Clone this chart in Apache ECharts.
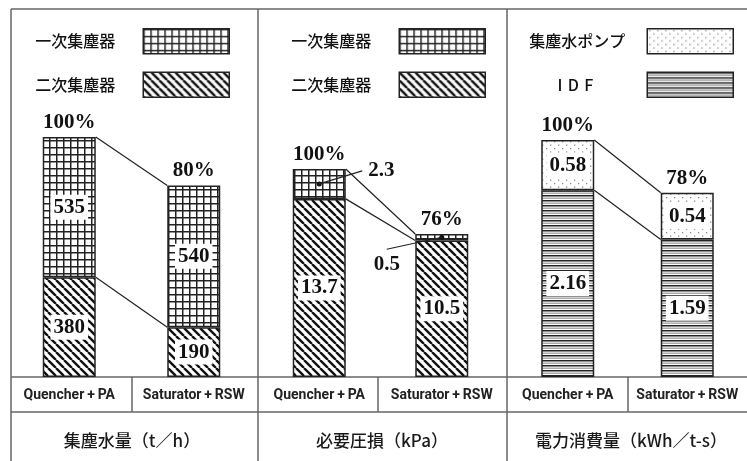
<!DOCTYPE html>
<html>
<head>
<meta charset="utf-8">
<script src="https://cdn.jsdelivr.net/npm/echarts@6/dist/echarts.min.js"></script>
</head>
<body style="margin: 0">
<div id="container" style="width: 747px; height: 461px"></div>
<script type="text/javascript">
// data
var categories = ['Quencher\u2009+\u2009PA', 'Saturator\u2009+\u2009RSW'];
var waterPrimary = [535, 540];      // 一次集塵器
var waterSecondary = [380, 190];    // 二次集塵器
var waterPct = ['100%', '80%'];
var pressPrimary = [2.3, 0.5];
var pressSecondary = [13.7, 10.5];
var pressPct = ['100%', '76%'];
var powerPump = [0.58, 0.54];       // 集塵水ポンプ
var powerIdf = [2.16, 1.59];        // IDF
var powerPct = ['100%', '78%'];
var panelTitles = ['集塵水量（t／h）', '必要圧損（kPa）', '電力消費量（kWh／t-s）'];

var BAR_W = 53;
var SERIF = '"Liberation Serif", "Times New Roman", serif';
var NARROW = 'Roboto, "Liberation Sans Narrow", sans-serif';
var CJK = '"Noto Sans CJK JP", "Noto Sans", sans-serif';

function tile(w, h, draw) {
    var c = document.createElement('canvas');
    c.width = w; c.height = h;
    var ctx = c.getContext('2d');
    ctx.fillStyle = '#fff';
    ctx.fillRect(0, 0, w, h);
    draw(ctx);
    return { image: c, repeat: 'repeat' };
}
var gridFill = tile(7, 7, function (ctx) {
    ctx.fillStyle = '#222';
    ctx.fillRect(0, 0, 7, 1.5);
    ctx.fillRect(0, 0, 1.5, 7);
});
var hatchFill = tile(8, 8, function (ctx) {
    ctx.strokeStyle = '#111';
    ctx.lineWidth = 2.4;
    ctx.beginPath();
    [-8, 0, 8].forEach(function (k) { ctx.moveTo(k, 0); ctx.lineTo(k + 8, 8); });
    ctx.stroke();
});
var dotFill = tile(8, 7, function (ctx) {
    ctx.fillStyle = '#888';
    ctx.fillRect(2, 1, 1.3, 1.3);
    ctx.fillRect(6, 4.5, 1.3, 1.3);
});
var lineFill = tile(4, 5, function (ctx) {
    ctx.fillStyle = '#222';
    ctx.fillRect(0, 0, 4, 1.5);
    ctx.fillStyle = '#aaa';
    ctx.fillRect(0, 2.5, 4, 1.5);
});

var valueLabel = {
    show: true, position: 'inside', color: '#111',
    fontFamily: SERIF, fontWeight: 'bold', fontSize: 21,
    backgroundColor: '#fff', padding: [3, 3, 1, 3]
};

function barSeries(idx, name, vals, fill, label) {
    return {
        type: 'bar', name: name, xAxisIndex: idx, yAxisIndex: idx,
        stack: 's' + idx, barWidth: BAR_W, data: vals,
        itemStyle: { color: fill, borderColor: '#222', borderWidth: 1.5 },
        label: label
    };
}

function connectorSeries(idx, lower, upper) {
    var data = [
        [0, lower[0], 1, lower[1]],
        [0, lower[0] + upper[0], 1, lower[1] + upper[1]]
    ];
    return {
        type: 'custom', xAxisIndex: idx, yAxisIndex: idx, data: data,
        encode: { x: [0, 2], y: [1, 3] }, silent: true, z: 3,
        renderItem: function (params, api) {
            var p0 = api.coord([api.value(0), api.value(1)]);
            var p1 = api.coord([api.value(2), api.value(3)]);
            return {
                type: 'line',
                shape: { x1: p0[0] + BAR_W / 2, y1: p0[1], x2: p1[0] - BAR_W / 2, y2: p1[1] },
                style: { stroke: '#222', lineWidth: 1.2 }
            };
        }
    };
}

function pctSeries(idx, lower, upper, pct) {
    var data = lower.map(function (v, i) { return [i, v + upper[i]]; });
    return {
        type: 'custom', xAxisIndex: idx, yAxisIndex: idx, data: data, silent: true, z: 4,
        renderItem: function (params, api) {
            var p = api.coord([api.value(0), api.value(1)]);
            return {
                type: 'text',
                style: {
                    text: pct[params.dataIndex], x: p[0], y: p[1] - 4,
                    align: 'center', verticalAlign: 'bottom',
                    font: 'bold 21px ' + SERIF, fill: '#111'
                }
            };
        }
    };
}

// callouts for the thin 一次集塵器 segments of 必要圧損
var calloutStyle = [
    { lx: 43, ly: -13, tx: 49, ty: -13, align: 'left', vAlign: 'middle' },
    { lx: -55, ly: 12, tx: -55, ty: 17, align: 'center', vAlign: 'top' }
];
function calloutSeries(idx, lower, upper) {
    var data = lower.map(function (v, i) { return [i, v + upper[i] / 2, upper[i]]; });
    return {
        type: 'custom', xAxisIndex: idx, yAxisIndex: idx, data: data, silent: true, z: 5,
        renderItem: function (params, api) {
            var p = api.coord([api.value(0), api.value(1)]);
            var s = calloutStyle[params.dataIndex];
            return {
                type: 'group',
                children: [
                    { type: 'circle', shape: { cx: p[0], cy: p[1], r: 2.5 }, style: { fill: '#111' } },
                    { type: 'line', shape: { x1: p[0], y1: p[1], x2: p[0] + s.lx, y2: p[1] + s.ly },
                      style: { stroke: '#222', lineWidth: 1.2 } },
                    { type: 'text', style: {
                        text: String(api.value(2)), x: p[0] + s.tx, y: p[1] + s.ty,
                        align: s.align, verticalAlign: s.vAlign,
                        font: 'bold 21px ' + SERIF, fill: '#111' } }
                ]
            };
        }
    };
}

var gridBoxes = [
    { left: 7, width: 249, top: 137, height: 240 },
    { left: 258, width: 245, top: 137, height: 240 },
    { left: 508, width: 246, top: 137, height: 240 }
];
var yMax = [915, 18.46, 2.775];

var xAxes = gridBoxes.map(function (g, i) {
    return {
        type: 'category', gridIndex: i, data: categories,
        axisLine: { show: false }, axisTick: { show: false },
        axisLabel: { interval: 0, margin: 11, fontSize: 14, fontWeight: 'bold', fontFamily: NARROW, color: '#222' }
    };
});
var yAxes = gridBoxes.map(function (g, i) {
    return { type: 'value', gridIndex: i, min: 0, max: yMax[i], show: false, splitLine: { show: false } };
});

// table frame
var frame = [
    [11, 9, 747, 9], [11, 9, 11, 461], [258, 9, 258, 461], [507, 9, 507, 461],
    [11, 377, 747, 377], [11, 412, 747, 412],
    [132, 377, 132, 412], [378, 377, 378, 412], [628, 377, 628, 412]
];
var graphics = frame.map(function (l) {
    return { type: 'line', silent: true, shape: { x1: l[0], y1: l[1], x2: l[2], y2: l[3] },
             style: { stroke: '#666', lineWidth: 1.5 } };
});
[132, 382, 631].forEach(function (x, i) {
    graphics.push({ type: 'text', x: x, y: 441, style: {
        text: panelTitles[i], align: 'center', verticalAlign: 'middle',
        font: '500 17px ' + CJK, fill: '#1a1a1a' } });
});

function legendOf(names, right) {
    return {
        data: names, orient: 'vertical', align: 'right', right: right, top: 28,
        itemWidth: 86, itemHeight: 25, itemGap: 17, padding: 0, icon: 'rect',
        selectedMode: false,
        itemStyle: { borderColor: '#222', borderWidth: 1.5 },
        textStyle: { fontSize: 16, fontWeight: 500, color: '#111', fontFamily: CJK, padding: [0, 23, 0, 0] },
        formatter: function (n) { return n === 'IDF' ? 'I\u2004D\u2004F' : n; }
    };
}

var option = {
    backgroundColor: '#fff',
    animation: false,
    grid: gridBoxes,
    xAxis: xAxes,
    yAxis: yAxes,
    legend: [
        legendOf(['一次集塵器', '二次集塵器'], 517),
        legendOf(['一次集塵器', '二次集塵器'], 261),
        legendOf([{ name: '集塵水ポンプ', textStyle: { padding: [0, 17, 0, 0] } },
                  { name: 'IDF', textStyle: { padding: [0, 49, 0, 0] } }], 13)
    ],
    graphic: graphics,
    series: [
        barSeries(0, '二次集塵器', waterSecondary, hatchFill, valueLabel),
        barSeries(0, '一次集塵器', waterPrimary, gridFill, valueLabel),
        connectorSeries(0, waterSecondary, waterPrimary),
        pctSeries(0, waterSecondary, waterPrimary, waterPct),

        barSeries(1, '二次集塵器', pressSecondary, hatchFill, valueLabel),
        barSeries(1, '一次集塵器', pressPrimary, gridFill, { show: false }),
        connectorSeries(1, pressSecondary, pressPrimary),
        pctSeries(1, pressSecondary, pressPrimary, pressPct),
        calloutSeries(1, pressSecondary, pressPrimary),

        barSeries(2, 'IDF', powerIdf, lineFill, valueLabel),
        barSeries(2, '集塵水ポンプ', powerPump, dotFill, valueLabel),
        connectorSeries(2, powerIdf, powerPump),
        pctSeries(2, powerIdf, powerPump, powerPct)
    ]
};

var myChart = echarts.init(document.getElementById('container'));
myChart.setOption(option);
</script>
</body>
</html>
